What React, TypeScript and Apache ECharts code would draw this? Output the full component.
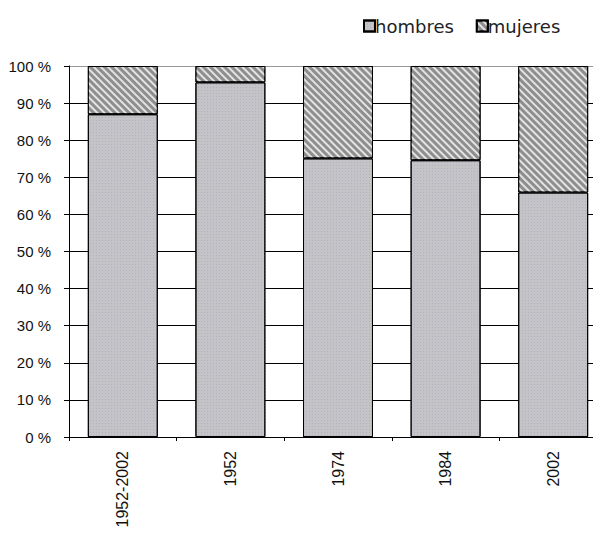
import React, { useEffect, useRef } from "react";
import * as echarts from "echarts";

const categories = ["1952-2002", "1952", "1974", "1984", "2002"];
const hombres = [87.0, 95.6, 75.1, 74.6, 65.9];
const mujeres = [13.0, 4.4, 24.9, 25.4, 34.1];
const yTicks = [0, 10, 20, 30, 40, 50, 60, 70, 80, 90, 100];

const FONT = "Liberation Sans, Arial, sans-serif";

export default function App() {
  const ref = useRef<HTMLDivElement>(null);

  useEffect(() => {
    if (!ref.current) return;
    const chart = echarts.init(ref.current, undefined, { renderer: "svg" });
    chart.setOption({
      animation: false,
      backgroundColor: "#ffffff",
      textStyle: { fontFamily: FONT },
      legend: {
        left: 363,
        top: 17,
        padding: 0,
        itemWidth: 11,
        itemHeight: 11,
        itemGap: 22,
        textStyle: {
          fontSize: 18,
          color: "#222",
          fontFamily: "DejaVu Sans, sans-serif",
          padding: [0, 0, 0, -5],
        },
        data: [
          { name: "hombres", icon: "rect" },
          { name: "mujeres", icon: "rect" },
        ],
      },
      grid: { left: 69, right: 0, top: 66, bottom: 96, containLabel: false },
      xAxis: {
        type: "category",
        data: categories,
        axisLine: { show: true, lineStyle: { color: "#000", width: 1 } },
        axisTick: { show: true, length: 4, lineStyle: { color: "#000" } },
        axisLabel: {
          rotate: 90,
          margin: 14,
          fontSize: 16,
          color: "#111",
          fontFamily: FONT,
        },
        splitLine: { show: false },
      },
      yAxis: {
        type: "value",
        min: 0,
        max: 100,
        interval: 10,
        axisLine: { show: true, lineStyle: { color: "#000", width: 1 } },
        axisTick: { show: true, length: 5, lineStyle: { color: "#000" } },
        axisLabel: {
          margin: 18,
          fontSize: 15,
          color: "#111",
          fontFamily: FONT,
          formatter: (v: number) => (yTicks.includes(v) ? `${v} %` : ""),
        },
        splitLine: {
          show: true,
          lineStyle: {
            color: ["#000", "#000", "#000", "#000", "#000", "#000", "#000", "#000", "#000", "#000", "#999"],
            width: 1,
          },
        },
      },
      series: [
        {
          name: "hombres",
          type: "bar",
          stack: "total",
          data: hombres,
          barCategoryGap: "35%",
          itemStyle: {
            color: "#c4c4c7",
            borderColor: "#000",
            borderWidth: 1,
            decal: {
              symbol: "rect",
              symbolSize: 1,
              color: "rgba(150,150,200,0.45)",
              dashArrayX: [1, 2],
              dashArrayY: [1, 2],
              rotation: 0,
            },
          },
        },
        {
          name: "mujeres",
          type: "bar",
          stack: "total",
          data: mujeres,
          itemStyle: {
            color: "#8e8e8e",
            borderColor: "#000",
            borderWidth: 1,
            decal: {
              symbol: "rect",
              symbolSize: 1,
              color: "rgba(255,255,255,0.75)",
              dashArrayX: [1, 0],
              dashArrayY: [2, 3],
              rotation: Math.PI / 4,
            },
          },
        },
      ],
    });
    return () => chart.dispose();
  }, []);

  return (
    <div style={{ position: "fixed", left: 0, top: 0, width: 593, height: 533, overflow: "hidden", background: "#fff" }}>
      <div ref={ref} style={{ width: 607, height: 533 }} />
    </div>
  );
}
